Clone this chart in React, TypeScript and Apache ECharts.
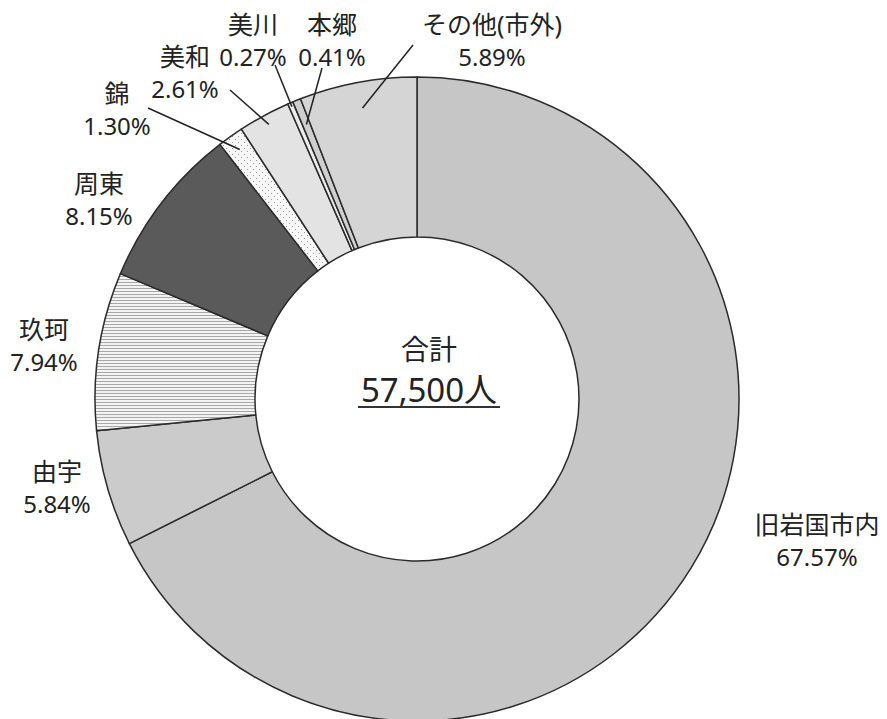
import React, { useEffect, useRef } from "react";
import * as echarts from "echarts";

// ---- data ----
const categories = ["旧岩国市内", "由宇", "玖珂", "周東", "錦", "美和", "美川", "本郷", "その他(市外)"];
const shares = [67.57, 5.84, 7.94, 8.15, 1.3, 2.61, 0.27, 0.41, 5.89];
const totalLabel = "合計";
const totalValue = "57,500人";

// ---- layout (positions of label blocks & leader-line ends near labels) ----
const CX = 417, CY = 399, R_IN = 162, R_OUT = 322;
const labelPos: [number, number][] = [
  [817, 540], [57, 487], [44, 345], [99, 199], [117, 109], [185, 72], [253, 40], [332, 40], [492, 40],
];
const leaderEnd: ([number, number] | null)[] = [
  null, null, null, null, [148, 108], [230, 90], [275, 65], [322, 68], [413, 45],
];
const leaderRadius = [0, 0, 0, 0, 306, 312, 318, 296, 296];

const FONT = "'Noto Sans', 'Noto Sans CJK JP', sans-serif";

function hatchPattern() {
  const c = document.createElement("canvas");
  c.width = 4; c.height = 3;
  const g = c.getContext("2d")!;
  g.fillStyle = "#f3f3f3"; g.fillRect(0, 0, 4, 3);
  g.fillStyle = "#a8a8a8"; g.fillRect(0, 0, 4, 1);
  return { image: c, repeat: "repeat", imageWidth: 4, imageHeight: 3 };
}
function dotPattern() {
  const c = document.createElement("canvas");
  c.width = 6; c.height = 6;
  const g = c.getContext("2d")!;
  g.fillStyle = "#f7f7f7"; g.fillRect(0, 0, 6, 6);
  g.fillStyle = "#9a9a9a"; g.fillRect(1, 1, 1, 1); g.fillRect(4, 4, 1, 1);
  return { image: c, repeat: "repeat", imageWidth: 6, imageHeight: 6 };
}

export default function App() {
  const ref = useRef<HTMLDivElement>(null);
  useEffect(() => {
    const chart = echarts.init(ref.current!, null, { renderer: "svg" });
    const fills: any[] = [
      "#c6c6c6", "#cbcbcb", hatchPattern(), "#5a5a5a", dotPattern(), "#e3e3e3", "#ececec", "#cfcfcf", "#d5d5d5",
    ];
    const total = shares.reduce((a, b) => a + b, 0);
    const midAngles: number[] = [];
    let acc = 0;
    shares.forEach((v) => {
      midAngles.push(((acc + v / 2) / total) * 2 * Math.PI);
      acc += v;
    });
    const leaders: any[] = [];
    categories.forEach((_, i) => {
      const end = leaderEnd[i];
      if (!end) return;
      const th = midAngles[i];
      const r = leaderRadius[i];
      leaders.push({
        type: "line",
        z: 10,
        shape: { x1: CX + r * Math.sin(th), y1: CY - r * Math.cos(th), x2: end[0], y2: end[1] },
        style: { stroke: "#222", lineWidth: 1.5 },
      });
    });
    const data = categories.map((name, i) => ({
      name,
      value: shares[i],
      itemStyle: { color: fills[i] },
    }));
    chart.setOption({
      animation: false,
      backgroundColor: "#ffffff",
      series: [
        {
          type: "pie",
          center: [CX, CY],
          radius: [R_IN, R_OUT],
          startAngle: 90,
          clockwise: true,
          silent: true,
          avoidLabelOverlap: false,
          itemStyle: { borderColor: "#2b2b2b", borderWidth: 1.5 },
          label: {
            show: true,
            position: "outside",
            formatter: (p: any) => `{n|${p.name}}\n{p|${Number(p.value).toFixed(2)}%}`,
            color: "#222",
            fontFamily: FONT,
            rich: {
              n: { fontSize: 25, lineHeight: 33, fontFamily: FONT, color: "#222", align: "center" },
              p: { fontSize: 24, lineHeight: 33, fontFamily: FONT, color: "#222", align: "center" },
            },
          },
          labelLine: { show: false },
          labelLayout: (params: any) => {
            const i = params.dataIndex;
            return { x: labelPos[i][0], y: labelPos[i][1], align: "center", verticalAlign: "middle" };
          },
          data,
        },
      ],
      graphic: [
        ...leaders,
        {
          type: "text",
          x: 429, y: 349,
          style: { text: totalLabel, fontSize: 28, fontFamily: FONT, fill: "#222", align: "center", verticalAlign: "middle" },
        },
        {
          type: "text",
          x: 429, y: 389,
          style: { text: totalValue, fontSize: 33, fontFamily: FONT, fill: "#222", align: "center", verticalAlign: "middle" },
        },
        {
          type: "line",
          shape: { x1: 358, y1: 407, x2: 500, y2: 407 },
          style: { stroke: "#333", lineWidth: 2 },
        },
      ],
    });
    return () => chart.dispose();
  }, []);
  return <div ref={ref} style={{ position: "absolute", left: 0, top: 0, width: 887, height: 719 }} />;
}
